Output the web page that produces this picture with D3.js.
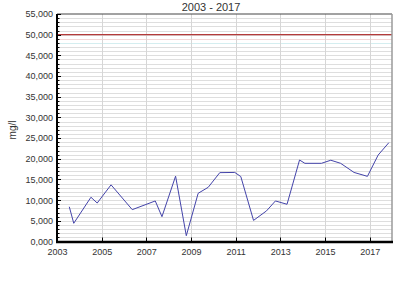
<!DOCTYPE html>
<html>
<head>
<meta charset="utf-8">
<script src="https://cdn.jsdelivr.net/npm/d3@7"></script>
<style>
  html, body { margin: 0; padding: 0; background: #fff; }
  svg { display: block; font-family: "Liberation Sans", Arial, sans-serif; }
</style>
</head>
<body>
<div id="chart"></div>
<script>
// ----- Data (decimal year, mg/l) -----
const years = [
  2003.55, 2003.75, 2004.52, 2004.80, 2005.42, 2006.37, 2007.40, 2007.70,
  2008.31, 2008.79, 2009.32, 2009.77, 2010.29, 2010.96, 2011.23, 2011.80,
  2012.38, 2012.78, 2013.30, 2013.86, 2014.10, 2014.84, 2015.26, 2015.70,
  2016.30, 2016.90, 2017.38, 2017.86
];
const values = [
  8400, 4400, 10700, 9300, 13700, 7700, 9800, 6000,
  15800, 1400, 11650, 13100, 16650, 16700, 15700, 5100,
  7400, 9800, 9000, 19700, 18900, 18900, 19650, 18900,
  16700, 15750, 20900, 23900
];
const limitValue = 50000;
const yTicks = [0, 5000, 10000, 15000, 20000, 25000, 30000, 35000, 40000, 45000, 50000, 55000];
const xTicks = [2003, 2005, 2007, 2009, 2011, 2013, 2015, 2017];
const title = "2003 - 2017";
const yLabel = "mg/l";

// ----- Layout -----
const W = 420, H = 285;
const MARGIN = { top: 14, right: 28, bottom: 43.5, left: 57 };
const LINE_COLOR = "#4444aa";
const LIMIT_COLOR = "#b43a3a";
const TEXT_COLOR = "#333";

const svg = d3.select("#chart").append("svg")
  .attr("width", W).attr("height", H);

const x = d3.scaleLinear().domain([2003, 2018]).range([MARGIN.left, W - MARGIN.right]);
const y = d3.scaleLinear().domain([0, 55000]).range([H - MARGIN.bottom, MARGIN.top]);

// minor horizontal grid every 1000
const minor = d3.range(1000, 55000, 1000);
svg.append("g").selectAll("line").data(minor).join("line")
  .attr("x1", x(2003)).attr("x2", x(2018))
  .attr("y1", d => Math.round(y(d)) + 0.5).attr("y2", d => Math.round(y(d)) + 0.5)
  .attr("stroke", d => d === 49000 ? "#f2d6d6" : d === 48000 ? "#d4eef0" : "#dedede")
  .attr("stroke-width", 1);

// vertical grid
svg.append("g").selectAll("line").data(xTicks.slice(1)).join("line")
  .attr("x1", d => Math.round(x(d)) + 0.5).attr("x2", d => Math.round(x(d)) + 0.5)
  .attr("y1", y(55000)).attr("y2", y(0))
  .attr("stroke", "#d6d6d6");

// limit line
svg.append("line")
  .attr("x1", x(2003)).attr("x2", x(2018))
  .attr("y1", y(limitValue)).attr("y2", y(limitValue))
  .attr("stroke", LIMIT_COLOR).attr("stroke-width", 1.3);

// data line
svg.append("path")
  .datum(years.map((yr, i) => [yr, values[i]]))
  .attr("fill", "none")
  .attr("stroke", LINE_COLOR)
  .attr("stroke-width", 1)
  .attr("d", d3.line().x(d => x(d[0])).y(d => y(d[1])));

// frame: top dark, right gray shadow
svg.append("line")
  .attr("x1", x(2003)).attr("x2", x(2018))
  .attr("y1", y(55000)).attr("y2", y(55000))
  .attr("stroke", "#444").attr("stroke-width", 1);
svg.append("line")
  .attr("x1", x(2018)).attr("x2", x(2018))
  .attr("y1", y(55000)).attr("y2", y(0))
  .attr("stroke", "#9a9a9a").attr("stroke-width", 1.5);

// y axis
const fmtY = d => d === 0 ? "0,000" : d3.format(",")(d);
const yAxis = svg.append("g")
  .attr("transform", `translate(${MARGIN.left},0)`)
  .call(d3.axisLeft(y).tickValues(yTicks).tickFormat(fmtY).tickSize(0).tickPadding(4));
yAxis.select(".domain").remove();
yAxis.selectAll("text").attr("font-size", 9).attr("fill", TEXT_COLOR)
  .attr("font-family", "Liberation Sans, Arial, sans-serif");
svg.append("g").selectAll("line").data(minor.concat(yTicks)).join("line")
  .attr("x1", MARGIN.left).attr("x2", d => MARGIN.left + (d % 5000 === 0 ? 4 : 2.5))
  .attr("y1", d => Math.round(y(d)) + 0.5).attr("y2", d => Math.round(y(d)) + 0.5)
  .attr("stroke", "#000");
svg.append("line")
  .attr("x1", MARGIN.left).attr("x2", MARGIN.left)
  .attr("y1", y(55000)).attr("y2", y(0) + 1)
  .attr("stroke", "#000").attr("stroke-width", 2);

// x axis
const xAxis = svg.append("g")
  .attr("transform", `translate(0,${y(0)})`)
  .call(d3.axisBottom(x).tickValues(xTicks).tickFormat(d3.format("d")).tickSize(0).tickPadding(7));
xAxis.select(".domain").remove();
xAxis.selectAll("text").attr("font-size", 9).attr("fill", TEXT_COLOR)
  .attr("font-family", "Liberation Sans, Arial, sans-serif");
svg.append("g").selectAll("line").data(xTicks.slice(1)).join("line")
  .attr("x1", d => Math.round(x(d)) + 0.5).attr("x2", d => Math.round(x(d)) + 0.5)
  .attr("y1", y(0)).attr("y2", y(0) - 4)
  .attr("stroke", "#000");
svg.append("line")
  .attr("x1", MARGIN.left - 1).attr("x2", x(2018) + 1)
  .attr("y1", y(0) + 0.5).attr("y2", y(0) + 0.5)
  .attr("stroke", "#000").attr("stroke-width", 2.5);

// title and axis label
svg.append("text")
  .attr("x", 211).attr("y", 11)
  .attr("text-anchor", "middle")
  .attr("font-size", 11).attr("fill", TEXT_COLOR)
  .text(title);

svg.append("text")
  .attr("transform", `translate(16,130) rotate(-90)`)
  .attr("text-anchor", "middle")
  .attr("font-size", 10).attr("fill", TEXT_COLOR)
  .text(yLabel);
</script>
</body>
</html>
